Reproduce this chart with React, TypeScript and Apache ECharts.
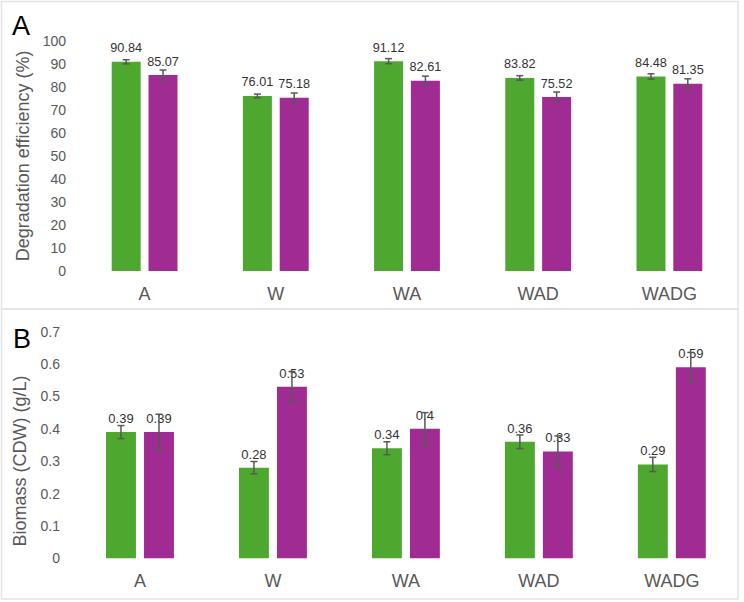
import React, { useEffect, useRef } from "react";
import * as echarts from "echarts";

const categories = ["A", "W", "WA", "WAD", "WADG"];

// Panel A: degradation efficiency (%)
const degGreen = [90.84, 76.01, 91.12, 83.82, 84.48];
const degGreenErr = [0.9, 0.8, 1.1, 1.0, 1.15];
const degPurple = [85.07, 75.18, 82.61, 75.52, 81.35];
const degPurpleErr = [2.2, 2.1, 2.0, 2.2, 2.1];

// Panel B: biomass (CDW) (g/L)
const bioGreen = [0.39, 0.28, 0.34, 0.36, 0.29];
const bioGreenErr = [0.02, 0.019, 0.02, 0.021, 0.022];
const bioPurple = [0.39, 0.53, 0.4, 0.33, 0.59];
const bioPurpleErr = [0.055, 0.047, 0.05, 0.048, 0.046];

const GREEN = "#4EA72E";
const PURPLE = "#A02B93";
const GREY = "#595959";
const FONT = "'Liberation Sans', Arial, sans-serif";

const BAR_PCT_A = 0.221;
const BAR_PCT_B = 0.225;
const GAP_PCT = 0.27;

function errSeries(
  vals: number[],
  errs: number[],
  side: number,
  axisIdx: number,
  barPct: number
) {
  return {
    type: "custom",
    xAxisIndex: axisIdx,
    yAxisIndex: axisIdx,
    z: 5,
    silent: true,
    encode: { x: 0, y: 1 },
    data: vals.map((v, i) => [i, v, errs[i]]),
    renderItem: (params: any, api: any) => {
      const idx = api.value(0);
      const v = api.value(1);
      const e = api.value(2);
      const band = api.size([1, 0])[0];
      const barW = band * barPct;
      const gap = barW * GAP_PCT;
      const off = (side * (barW + gap)) / 2;
      const top = api.coord([idx, v + e]);
      const bot = api.coord([idx, v - e]);
      const x = top[0] + off;
      const cap = 3.5;
      const style = { stroke: GREY, lineWidth: 1.5, fill: "none" };
      return {
        type: "group",
        children: [
          { type: "line", shape: { x1: x, y1: top[1], x2: x, y2: bot[1] }, style },
          { type: "line", shape: { x1: x - cap, y1: top[1], x2: x + cap, y2: top[1] }, style },
          { type: "line", shape: { x1: x - cap, y1: bot[1], x2: x + cap, y2: bot[1] }, style },
        ],
      };
    },
  };
}

function barSeries(
  name: string,
  vals: number[],
  color: string,
  axisIdx: number,
  barPct: number,
  fontSize: number,
  fmt: (v: number) => string
) {
  return {
    name,
    type: "bar",
    xAxisIndex: axisIdx,
    yAxisIndex: axisIdx,
    z: 2,
    barWidth: `${barPct * 100}%`,
    barGap: `${GAP_PCT * 100}%`,
    data: vals,
    itemStyle: { color },
    label: {
      show: true,
      position: "top",
      distance: 7,
      color: "#333333",
      fontSize,
      fontFamily: FONT,
      formatter: (p: any) => fmt(p.value),
    },
  };
}

export default function App() {
  const ref = useRef<HTMLDivElement>(null);

  useEffect(() => {
    if (!ref.current) return;
    const chart = echarts.init(ref.current, null, { renderer: "svg" });

    const xAxisBase = {
      type: "category",
      data: categories,
      axisLine: { show: false },
      axisTick: { show: false },
      axisLabel: { color: GREY, fontSize: 18, fontFamily: FONT, margin: 14 },
    };
    const yAxisBase = {
      type: "value",
      nameLocation: "middle",
      nameTextStyle: { color: GREY, fontSize: 18, fontFamily: FONT },
      axisLine: { show: false },
      axisTick: { show: false },
      splitLine: { show: false },
    };

    chart.setOption({
      animation: false,
      backgroundColor: "#ffffff",
      textStyle: { fontFamily: FONT },
      grid: [
        { left: 79, right: 9, top: 40.7, height: 230.3, containLabel: false },
        { left: 73.5, right: 5.7, top: 331.7, height: 226.6, containLabel: false },
      ],
      xAxis: [
        { ...xAxisBase, gridIndex: 0 },
        { ...xAxisBase, gridIndex: 1 },
      ],
      yAxis: [
        {
          ...yAxisBase,
          gridIndex: 0,
          min: 0,
          max: 100,
          interval: 10,
          name: "Degradation efficiency (%)",
          nameGap: 46,
          axisLabel: { color: GREY, fontSize: 14, fontFamily: FONT, margin: 13 },
        },
        {
          ...yAxisBase,
          gridIndex: 1,
          min: 0,
          max: 0.7,
          interval: 0.1,
          name: "Biomass (CDW) (g/L)",
          nameGap: 45,
          nameTextStyle: { color: GREY, fontSize: 18, fontFamily: FONT, padding: [0, 32, 0, 0] },
          axisLabel: {
            color: GREY,
            fontSize: 14,
            fontFamily: FONT,
            margin: 13.5,
            formatter: (v: number) => String(Number(v.toFixed(1))),
          },
        },
      ],
      graphic: [
        {
          type: "rect",
          silent: true,
          shape: { x: 1.5, y: 1.5, width: 736.5, height: 307.5 },
          style: { fill: "none", stroke: "#e4e4e4", lineWidth: 1.5 },
        },
        {
          type: "rect",
          silent: true,
          shape: { x: 1.5, y: 309, width: 736.5, height: 290 },
          style: { fill: "none", stroke: "#e4e4e4", lineWidth: 1.5 },
        },
        {
          type: "text",
          left: 12,
          top: 12,
          style: { text: "A", fontSize: 27, fontFamily: FONT, fill: "#000000" },
        },
        {
          type: "text",
          left: 13,
          top: 325,
          style: { text: "B", fontSize: 27, fontFamily: FONT, fill: "#000000" },
        },
      ],
      series: [
        barSeries("Green A", degGreen, GREEN, 0, BAR_PCT_A, 12.7, (v) => v.toFixed(2)),
        barSeries("Purple A", degPurple, PURPLE, 0, BAR_PCT_A, 12.7, (v) => v.toFixed(2)),
        errSeries(degGreen, degGreenErr, -1, 0, BAR_PCT_A),
        errSeries(degPurple, degPurpleErr, 1, 0, BAR_PCT_A),
        barSeries("Green B", bioGreen, GREEN, 1, BAR_PCT_B, 13, (v) => String(Number(v.toFixed(2)))),
        barSeries("Purple B", bioPurple, PURPLE, 1, BAR_PCT_B, 13, (v) => String(Number(v.toFixed(2)))),
        errSeries(bioGreen, bioGreenErr, -1, 1, BAR_PCT_B),
        errSeries(bioPurple, bioPurpleErr, 1, 1, BAR_PCT_B),
      ],
    });

    return () => chart.dispose();
  }, []);

  return (
    <div
      ref={ref}
      style={{ position: "fixed", left: 0, top: 0, width: 744, height: 602, background: "#fff" }}
    />
  );
}
